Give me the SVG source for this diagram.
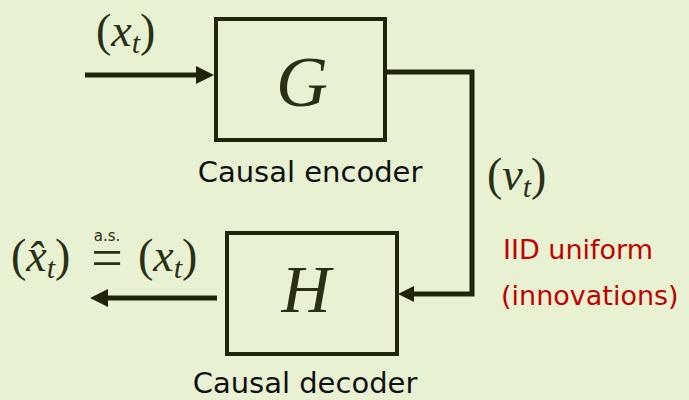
<svg xmlns="http://www.w3.org/2000/svg" width="689" height="400" viewBox="0 0 689 400">
<defs>
<style>
.box{fill:none;stroke:#1f2608;stroke-width:4}
.wire{fill:none;stroke:#1f2608;stroke-width:5;stroke-linejoin:miter}
.head{fill:#1f2608}
.lbl{font-family:"DejaVu Sans","Liberation Sans",sans-serif;font-size:29px;fill:#111}
.math{font-family:"Liberation Serif","Times New Roman",serif;fill:#2a3015}
.it{font-style:italic}
.red{font-family:"DejaVu Sans","Liberation Sans",sans-serif;font-size:27px;fill:#c00000}
</style>
</defs>
<rect width="689" height="400" fill="#e8f2d2"/>
<g id="connectors">
<path class="wire" d="M85 75 H198"/>
<polygon class="head" points="214,75 196,66 196,84"/>
<path class="wire" d="M385 72 H472 V294 H413"/>
<polygon class="head" points="398,294 414,286 414,302"/>
<path class="wire" d="M217 298 H106"/>
<polygon class="head" points="90,298 108,289 108,307"/>
</g>
<g id="encoder">
<rect class="box" x="216" y="19" width="169" height="121"/>
<text class="math it" x="302" y="106" font-size="72" text-anchor="middle">G</text>
<text class="lbl" x="310" y="182" text-anchor="middle">Causal encoder</text>
</g>
<g id="decoder">
<rect class="box" x="227" y="233" width="170" height="121"/>
<text class="math it" x="306" y="312" font-size="68" text-anchor="middle">H</text>
<text class="lbl" x="305" y="393" text-anchor="middle">Causal decoder</text>
</g>
<g id="input-label">
<text class="math" x="96" y="46" font-size="46">(<tspan class="it">x</tspan><tspan class="it" font-size="30" dy="7">t</tspan><tspan dy="-7">)</tspan></text>
</g>
<g id="output-label">
<text class="math" x="11" y="271" font-size="46">(<tspan class="it">x̂</tspan><tspan class="it" font-size="30" dy="7">t</tspan><tspan dy="-7">)</tspan></text>
<text class="math" x="107" y="277" font-size="56" text-anchor="middle">=</text>
<text x="107" y="241" font-family="DejaVu Sans,sans-serif" font-size="15" fill="#2a3015" text-anchor="middle">a.s.</text>
<text class="math" x="138" y="271" font-size="46">(<tspan class="it">x</tspan><tspan class="it" font-size="30" dy="7">t</tspan><tspan dy="-7">)</tspan></text>
</g>
<g id="nu-label">
<text class="math" x="487" y="190" font-size="46">(<tspan class="it">ν</tspan><tspan class="it" font-size="30" dy="7">t</tspan><tspan dy="-7">)</tspan></text>
</g>
<g id="note">
<text class="red" x="503" y="259">IID uniform</text>
<text class="red" x="501" y="305">(innovations)</text>
</g>
</svg>
